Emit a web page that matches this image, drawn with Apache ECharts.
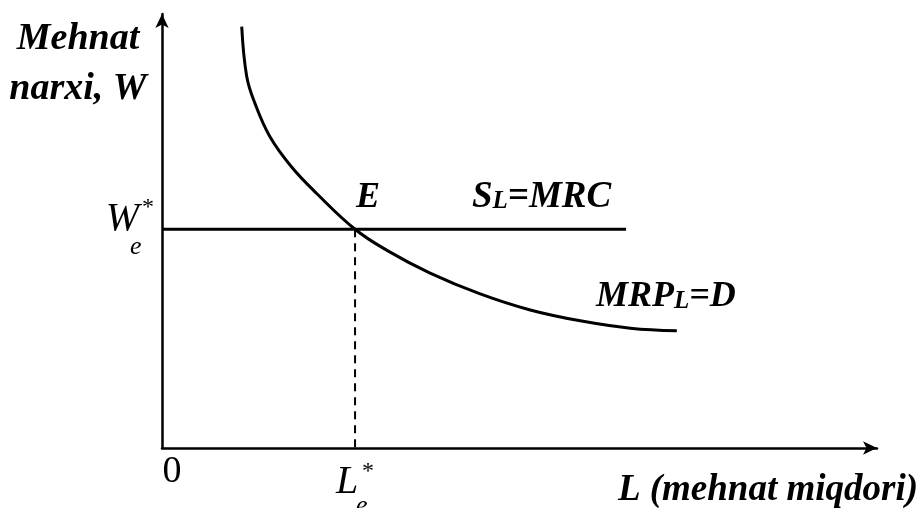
<!DOCTYPE html>
<html>
<head>
<meta charset="utf-8">
<script src="https://cdn.jsdelivr.net/npm/echarts@6/dist/echarts.min.js"></script>
<style>html,body{margin:0;padding:0;background:#fff}#c{width:920px;height:508px}</style>
</head>
<body>
<div id="c"></div>
<script>
// Labour quantity (L) values for the demand curve MRP_L = D
const demandL = [11.15, 11.85, 13.0, 15.1, 18.1, 21.6, 27.0, 31.4, 37.5, 44.5, 51.5, 58.5, 65.5, 72.0];
// Wage (W) values for the demand curve
const demandW = [97.1, 85.6, 79.4, 71.7, 64.8, 58.7, 50.4, 45.6, 40.3, 35.5, 31.8, 29.3, 27.6, 27.0];
// Supply S_L = MRC (horizontal at equilibrium wage)
const supplyL = [0, 64.9];
const eqWage = 50.4;   // W*e
const eqLabour = 27.0; // L*e
const axisMax = [100, 100];

const serif = '"Liberation Serif", "Times New Roman", serif';
const chart = echarts.init(document.getElementById('c'));

const demandData = demandL.map((l, i) => [l, demandW[i]]);
const supplyData = supplyL.map(l => [l, eqWage]);
const dashData = [[eqLabour, eqWage], [eqLabour, 0]];

chart.setOption({
  animation: false,
  backgroundColor: '#fff',
  grid: { left: 162, right: 43, top: 14, bottom: 60 },
  xAxis: {
    type: 'value', min: 0, max: axisMax[0],
    axisLine: { show: true, onZero: false, symbol: ['none', 'arrow'], symbolSize: [10, 14], lineStyle: { color: '#000', width: 2.5 } },
    axisTick: { show: false }, axisLabel: { show: false }, splitLine: { show: false }
  },
  yAxis: {
    type: 'value', min: 0, max: axisMax[1],
    axisLine: { show: true, onZero: false, symbol: ['none', 'arrow'], symbolSize: [10, 14], lineStyle: { color: '#000', width: 2.5 } },
    axisTick: { show: false }, axisLabel: { show: false }, splitLine: { show: false }
  },
  series: [
    { type: 'line', data: demandData, smooth: 0.4, showSymbol: false, lineStyle: { color: '#000', width: 3 } },
    { type: 'line', data: supplyData, showSymbol: false, lineStyle: { color: '#000', width: 3 } },
    { type: 'line', data: dashData, showSymbol: false, lineStyle: { color: '#000', width: 2, type: [8, 6] } }
  ]
});

const eqPix = chart.convertToPixel({ gridIndex: 0 }, [eqLabour, eqWage]);
const zeroPix = chart.convertToPixel({ gridIndex: 0 }, [0, 0]);

function txt(x, y, text, size, weight, style, align) {
  return { type: 'text', x: x, y: y, style: { text: text, font: (style || 'italic') + ' ' + (weight || 'bold') + ' ' + size + 'px ' + serif, fill: '#000', textAlign: align || 'left', textVerticalAlign: 'middle' } };
}

chart.setOption({
  graphic: [
    txt(78, 39, 'Mehnat', 38, 'bold', 'italic', 'center'),
    txt(78, 89, 'narxi, W', 38, 'bold', 'italic', 'center'),
    txt(zeroPix[0] + 10, zeroPix[1] + 24, '0', 38, 'normal', 'normal', 'center'),
    txt(zeroPix[0] - 23, eqPix[1] - 10, 'W', 40, 'normal', 'italic', 'right'),
    txt(zeroPix[0] - 20, eqPix[1] - 22, '*', 24, 'normal', 'normal', 'left'),
    txt(zeroPix[0] - 32, eqPix[1] + 18, 'e', 26, 'normal', 'italic', 'left'),
    txt(eqPix[0] - 19, zeroPix[1] + 34, 'L', 40, 'normal', 'italic', 'left'),
    txt(eqPix[0] + 7, zeroPix[1] + 24, '*', 24, 'normal', 'normal', 'left'),
    txt(eqPix[0] + 1, zeroPix[1] + 58, 'e', 26, 'normal', 'italic', 'left'),
    txt(eqPix[0] + 1, eqPix[1] - 32, 'E', 36, 'bold', 'italic', 'left'),
    {
      type: 'text', x: 472, y: eqPix[1] - 32,
      style: {
        text: '{b|S}{s|L}{b|=MRC}',
        rich: {
          b: { font: 'italic bold 37px ' + serif, fill: '#000' },
          s: { font: 'italic bold 25px ' + serif, fill: '#000', padding: [9, 0, 0, 0] }
        },
        textVerticalAlign: 'middle'
      }
    },
    {
      type: 'text', x: 596, y: 297,
      style: {
        text: '{b|MRP}{s|L}{b|=D}',
        rich: {
          b: { font: 'italic bold 36px ' + serif, fill: '#000' },
          s: { font: 'italic bold 25px ' + serif, fill: '#000', padding: [9, 0, 0, 0] }
        },
        textVerticalAlign: 'middle'
      }
    },
    txt(918, 490, 'L (mehnat miqdori)', 37, 'bold', 'italic', 'right')
  ]
});
</script>
</body>
</html>
